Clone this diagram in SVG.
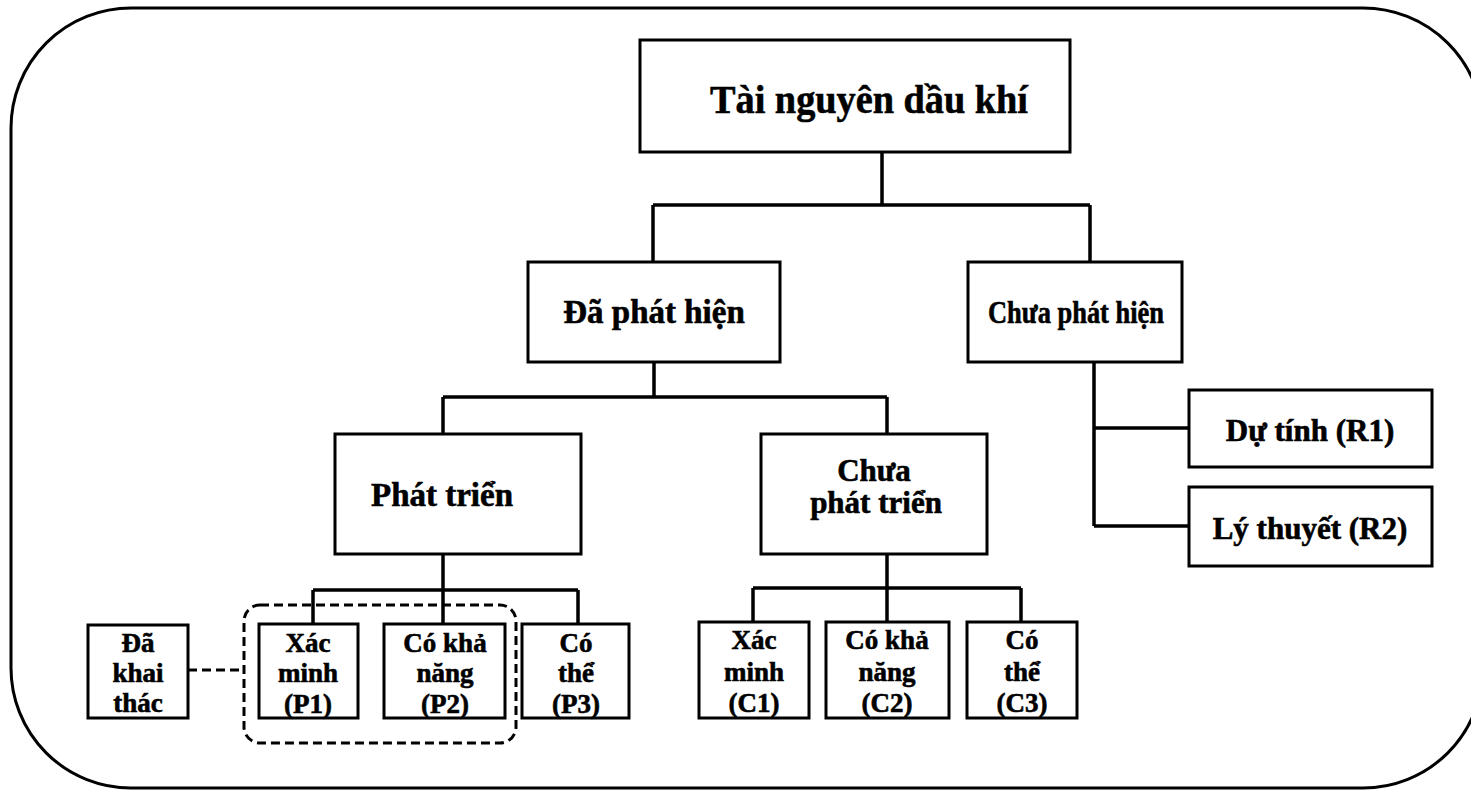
<svg xmlns="http://www.w3.org/2000/svg" width="1471" height="790" viewBox="0 0 1471 790">
<style>
.box{fill:#fff;stroke:#000;stroke-width:3}
.ln{fill:none;stroke:#000;stroke-width:3.5}
.dash{fill:none;stroke:#000;stroke-width:3;stroke-dasharray:9 5}
text{font-family:"Liberation Serif","Times New Roman",serif;font-weight:bold;fill:#000;stroke:#000;stroke-width:0.6;text-anchor:middle}
.t1{font-size:41px}
.t2{font-size:31px}
.t3{font-size:27px}
</style>
<rect width="1471" height="790" fill="#fff"/>
<path id="frame" d="M131,8 H1363 A120,120 0 0 1 1483,128 V668 A120,120 0 0 1 1363,788 H131 A120,120 0 0 1 11,668 V128 A120,120 0 0 1 131,8 Z" fill="none" stroke="#000" stroke-width="3"/>
<g id="connectors">
<path class="ln" d="M882,152 V205 M653,205 H1090 M653,205 V262 M1090,205 V262"/>
<path class="ln" d="M654,362 V397 M443,397 H887 M443,397 V434 M887,397 V434"/>
<path class="ln" d="M443,554 V590 M313,590 H578 M313,590 V624 M443,590 V624 M578,590 V624"/>
<path class="ln" d="M887,554 V588 M753,588 H1021 M753,588 V622 M887,588 V622 M1021,588 V622"/>
<path class="ln" d="M1094,362 V526 M1094,428 H1189 M1094,526 H1189"/>
<path class="dash" d="M188,670 H244"/>
<rect class="dash" x="244" y="605" width="272" height="138" rx="16"/>
</g>
<g id="n-root"><rect class="box" x="640" y="40" width="430" height="112"/><text class="t1" x="869" y="113" textLength="318" lengthAdjust="spacingAndGlyphs">Tài nguyên dầu khí</text></g>
<g id="n-daphathien"><rect class="box" x="528" y="262" width="252" height="100"/><text x="654" y="323" style="font-size:33px">Đã phát hiện</text></g>
<g id="n-chuaphathien"><rect class="box" x="968" y="262" width="214" height="100"/><text x="1076" y="323" style="font-size:31px" textLength="176" lengthAdjust="spacingAndGlyphs">Chưa phát hiện</text></g>
<g id="n-phattrien"><rect class="box" x="335" y="434" width="246" height="120"/><text x="442" y="506" style="font-size:33px">Phát triển</text></g>
<g id="n-chuaphattrien"><rect class="box" x="761" y="434" width="226" height="120"/><text class="t2" x="874" y="481">Chưa</text><text class="t2" x="876" y="513">phát triển</text></g>
<g id="n-r1"><rect class="box" x="1189" y="390" width="243" height="77"/><text class="t2" x="1310" y="441">Dự tính (R1)</text></g>
<g id="n-r2"><rect class="box" x="1189" y="487" width="243" height="79"/><text class="t2" x="1310" y="539">Lý thuyết (R2)</text></g>
<g id="n-dakhaithac"><rect class="box" x="88" y="625" width="100" height="93"/><text class="t3" x="138" y="652">Đã</text><text class="t3" x="138" y="682">khai</text><text class="t3" x="138" y="712">thác</text></g>
<g id="n-p1"><rect class="box" x="259" y="624" width="99" height="94"/><text class="t3" x="308" y="652">Xác</text><text class="t3" x="308" y="682">minh</text><text class="t3" x="308" y="713">(P1)</text></g>
<g id="n-p2"><rect class="box" x="384" y="624" width="121" height="94"/><text class="t3" x="445" y="652">Có khả</text><text class="t3" x="445" y="682">năng</text><text class="t3" x="445" y="713">(P2)</text></g>
<g id="n-p3"><rect class="box" x="522" y="624" width="107" height="94"/><text class="t3" x="576" y="652">Có</text><text class="t3" x="576" y="682">thể</text><text class="t3" x="576" y="713">(P3)</text></g>
<g id="n-c1"><rect class="box" x="699" y="622" width="110" height="96"/><text class="t3" x="754" y="649">Xác</text><text class="t3" x="754" y="681">minh</text><text class="t3" x="754" y="712">(C1)</text></g>
<g id="n-c2"><rect class="box" x="826" y="622" width="123" height="96"/><text class="t3" x="887" y="649">Có khả</text><text class="t3" x="887" y="681">năng</text><text class="t3" x="887" y="712">(C2)</text></g>
<g id="n-c3"><rect class="box" x="967" y="622" width="110" height="96"/><text class="t3" x="1022" y="649">Có</text><text class="t3" x="1022" y="681">thể</text><text class="t3" x="1022" y="712">(C3)</text></g>
</svg>
